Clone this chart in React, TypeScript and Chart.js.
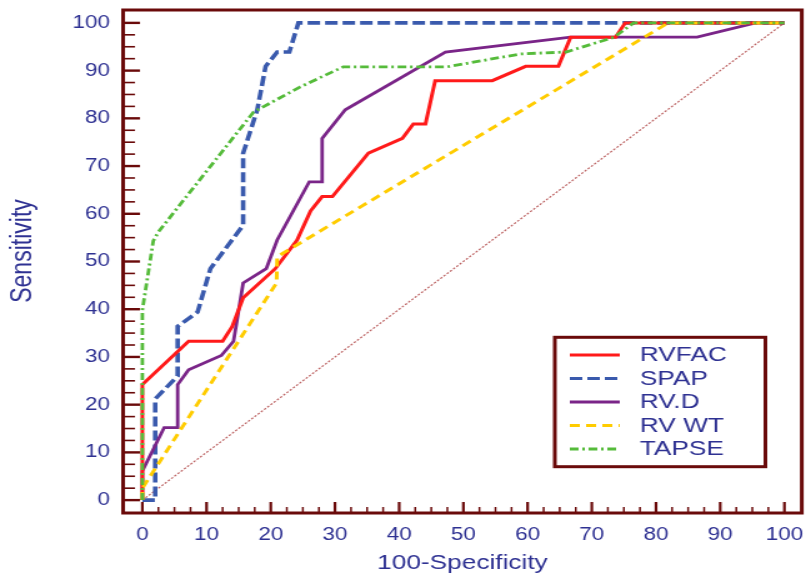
import React, { useEffect, useRef } from 'react';
import { Chart, registerables } from 'chart.js';

Chart.register(...registerables);

// ---------- data ----------
const X_TICKS = [0, 10, 20, 30, 40, 50, 60, 70, 80, 90, 100];
const Y_TICKS = [0, 10, 20, 30, 40, 50, 60, 70, 80, 90, 100];
const X_TITLE = '100-Specificity';
const Y_TITLE = 'Sensitivity';

const SERIES_LABELS = ['RVFAC', 'SPAP', 'RV.D', 'RV WT', 'TAPSE'];

const RVFAC_X = [0, 0, 7.2, 12.5, 14.0, 15.7, 20.7, 24.1, 26.2, 28.0, 29.6, 35.2, 40.5, 42.2, 44.1, 45.6, 54.5, 59.7, 64.8, 66.7, 73.7, 75.2, 100];
const RVFAC_Y = [0, 24.2, 33.3, 33.3, 36.4, 42.4, 48.5, 54.5, 60.6, 63.6, 63.6, 72.7, 75.8, 78.8, 78.8, 87.9, 87.9, 90.9, 90.9, 97.0, 97.0, 100, 100];

const SPAP_X = [0, 2.0, 2.0, 5.5, 5.5, 8.6, 10.6, 15.7, 15.7, 17.9, 19.2, 21.0, 22.9, 24.3, 100];
const SPAP_Y = [0, 0, 21.2, 26.0, 36.4, 39.4, 48.5, 57.6, 72.7, 81.8, 90.9, 93.9, 93.9, 100, 100];

const RVD_X = [0, 0, 3.4, 5.5, 5.5, 7.2, 12.3, 14.2, 15.7, 19.3, 21.0, 26.0, 28.0, 28.0, 31.6, 47.2, 66.7, 86.4, 95.5, 100];
const RVD_Y = [0, 6.1, 15.2, 15.2, 24.2, 27.3, 30.3, 33.3, 45.5, 48.5, 54.5, 66.7, 66.7, 75.8, 81.8, 93.9, 97.0, 97.0, 100, 100];

const RVWT_X = [0, 0, 20.9, 21.0, 81.9, 100];
const RVWT_Y = [0, 2.5, 45.5, 51.0, 100, 100];

const TAPSE_X = [0, 0, 1.7, 2.5, 17.3, 24.6, 31.3, 47.5, 58.9, 66.0, 73.5, 76.5, 100];
const TAPSE_Y = [0, 39.8, 54.3, 56.2, 81.3, 86.6, 90.8, 90.8, 93.5, 93.9, 97.0, 100, 100];

const DIAG_X = [0, 100];
const DIAG_Y = [0, 100];

// ---------- styles ----------
const FONT_FAMILY = '"Liberation Sans", Arial, Helvetica, sans-serif';
const TEXT_COLOR = '#2e3192';
const FRAME_COLOR = '#6a0a0a';

const pts = (xs: number[], ys: number[]) => xs.map((x, i) => ({ x, y: ys[i] }));

const rocPlugin = {
  id: 'rocDecor',
  afterDatasetsDraw(chart: any) {
    const { ctx, chartArea: a, scales } = chart;
    const xs = scales.x;
    const ys = scales.y;
    ctx.save();
    ctx.setLineDash([]);
    ctx.strokeStyle = FRAME_COLOR;
    // tick marks (major every 10, minor every 2.5), drawn inward
    for (let k = 0; k <= 40; k++) {
      const v = k * 2.5;
      const major = k % 4 === 0;
      const py = ys.getPixelForValue(v);
      ctx.lineWidth = major ? 2.4 : 1.6;
      ctx.beginPath();
      ctx.moveTo(a.left, py);
      ctx.lineTo(a.left + (major ? 13.5 : 9.5), py);
      ctx.stroke();
      const px = xs.getPixelForValue(v);
      ctx.lineWidth = major ? 2.2 : 1.5;
      ctx.beginPath();
      ctx.moveTo(px, a.bottom);
      ctx.lineTo(px, a.bottom - (major ? 11 : 6));
      ctx.stroke();
    }
    // frame
    ctx.lineWidth = 3;
    ctx.strokeRect(a.left, a.top, a.right - a.left, a.bottom - a.top);
    ctx.restore();
  },
  afterDraw(chart: any) {
    const { ctx } = chart;
    ctx.save();
    // y axis title
    ctx.translate(18.6, 251);
    ctx.rotate(-Math.PI / 2);
    ctx.fillStyle = TEXT_COLOR;
    ctx.font = `23px ${FONT_FAMILY}`;
    ctx.textAlign = 'center';
    ctx.textBaseline = 'middle';
    ctx.fillText(Y_TITLE, 0, 0);
    ctx.restore();

    // legend box
    ctx.save();
    const bx = 444, by = 337.3, bw = 168.5, bh = 129.4;
    ctx.fillStyle = '#ffffff';
    ctx.fillRect(bx, by, bw, bh);
    ctx.strokeStyle = FRAME_COLOR;
    ctx.lineWidth = 3;
    ctx.setLineDash([]);
    ctx.strokeRect(bx, by, bw, bh);
    let i = 0;
    chart.data.datasets.forEach((ds: any) => {
      if (!SERIES_LABELS.includes(ds.label)) return;
      const y = 355 + i * 23.5;
      ctx.strokeStyle = ds.borderColor;
      ctx.lineWidth = Math.min(ds.borderWidth, 3);
      ctx.setLineDash(ds.borderDash || []);
      ctx.beginPath();
      ctx.moveTo(456, y);
      ctx.lineTo(496, y);
      ctx.stroke();
      ctx.setLineDash([]);
      ctx.fillStyle = TEXT_COLOR;
      ctx.font = `21px ${FONT_FAMILY}`;
      ctx.textAlign = 'left';
      ctx.textBaseline = 'middle';
      ctx.fillText(ds.label, 512, y + 0.5);
      i++;
    });
    ctx.restore();
  },
};

export default function App() {
  const ref = useRef<HTMLCanvasElement>(null);

  useEffect(() => {
    if (!ref.current) return;
    const tickFont = { family: FONT_FAMILY, size: 18 };
    const chart = new Chart(ref.current, {
      type: 'line',
      data: {
        datasets: [
          {
            label: SERIES_LABELS[0],
            data: pts(RVFAC_X, RVFAC_Y),
            borderColor: '#ff1a1a',
            borderWidth: 3,
            order: 2,
          },
          {
            label: SERIES_LABELS[1],
            data: pts(SPAP_X, SPAP_Y),
            borderColor: '#3a5aad',
            borderWidth: 3.6,
            borderDash: [10, 4],
            order: 4,
          },
          {
            label: SERIES_LABELS[2],
            data: pts(RVD_X, RVD_Y),
            borderColor: '#7a2588',
            borderWidth: 2.8,
            order: 3,
          },
          {
            label: SERIES_LABELS[3],
            data: pts(RVWT_X, RVWT_Y),
            borderColor: '#ffcc00',
            borderWidth: 3,
            borderDash: [8, 5],
            order: 1,
          },
          {
            label: SERIES_LABELS[4],
            data: pts(TAPSE_X, TAPSE_Y),
            borderColor: '#55bb3a',
            borderWidth: 2.8,
            borderDash: [7, 3, 2, 3],
            order: 0,
          },
          {
            label: '',
            data: pts(DIAG_X, DIAG_Y),
            borderColor: 'rgba(165,45,45,0.75)',
            borderWidth: 1.2,
            borderDash: [2, 1.5],
            order: 5,
          },
        ] as any,
      },
      options: {
        animation: false,
        responsive: false,
        devicePixelRatio: 1,
        layout: { padding: { top: 10, right: 3.4, bottom: 0, left: 0 } },
        plugins: { legend: { display: false }, tooltip: { enabled: false } },
        elements: { point: { radius: 0 }, line: { tension: 0, fill: false } },
        scales: {
          x: {
            type: 'linear',
            min: -3,
            max: 102.7,
            grid: { display: false, drawTicks: false },
            border: { display: false },
            afterBuildTicks: (s: any) => {
              s.ticks = X_TICKS.map((v) => ({ value: v }));
            },
            afterFit: (s: any) => {
              s.height = 63;
              s.paddingLeft = 0;
              s.paddingRight = 0;
            },
            ticks: {
              padding: 11,
              color: TEXT_COLOR,
              font: tickFont,
              autoSkip: false,
              maxRotation: 0,
              callback: (v: any) => String(v),
            },
            title: {
              display: true,
              text: X_TITLE,
              color: TEXT_COLOR,
              font: { family: FONT_FAMILY, size: 21 },
              padding: { top: 0, bottom: 0 },
            },
          },
          y: {
            type: 'linear',
            min: -2.7,
            max: 102.7,
            grid: { display: false, drawTicks: false },
            border: { display: false },
            afterBuildTicks: (s: any) => {
              s.ticks = Y_TICKS.map((v) => ({ value: v }));
            },
            afterFit: (s: any) => {
              s.width = 98.5;
              s.paddingTop = 0;
              s.paddingBottom = 0;
            },
            ticks: {
              padding: 10.5,
              color: TEXT_COLOR,
              font: tickFont,
              autoSkip: false,
              callback: (v: any) => String(v),
            },
          },
        },
      } as any,
      plugins: [rocPlugin],
    });
    return () => chart.destroy();
  }, []);

  return (
    <div style={{ position: 'absolute', left: 0, top: 0, width: 806, height: 576, background: '#ffffff' }}>
      <canvas
        ref={ref}
        width={645}
        height={576}
        style={{ width: '806px', height: '576px', display: 'block' }}
      />
    </div>
  );
}
